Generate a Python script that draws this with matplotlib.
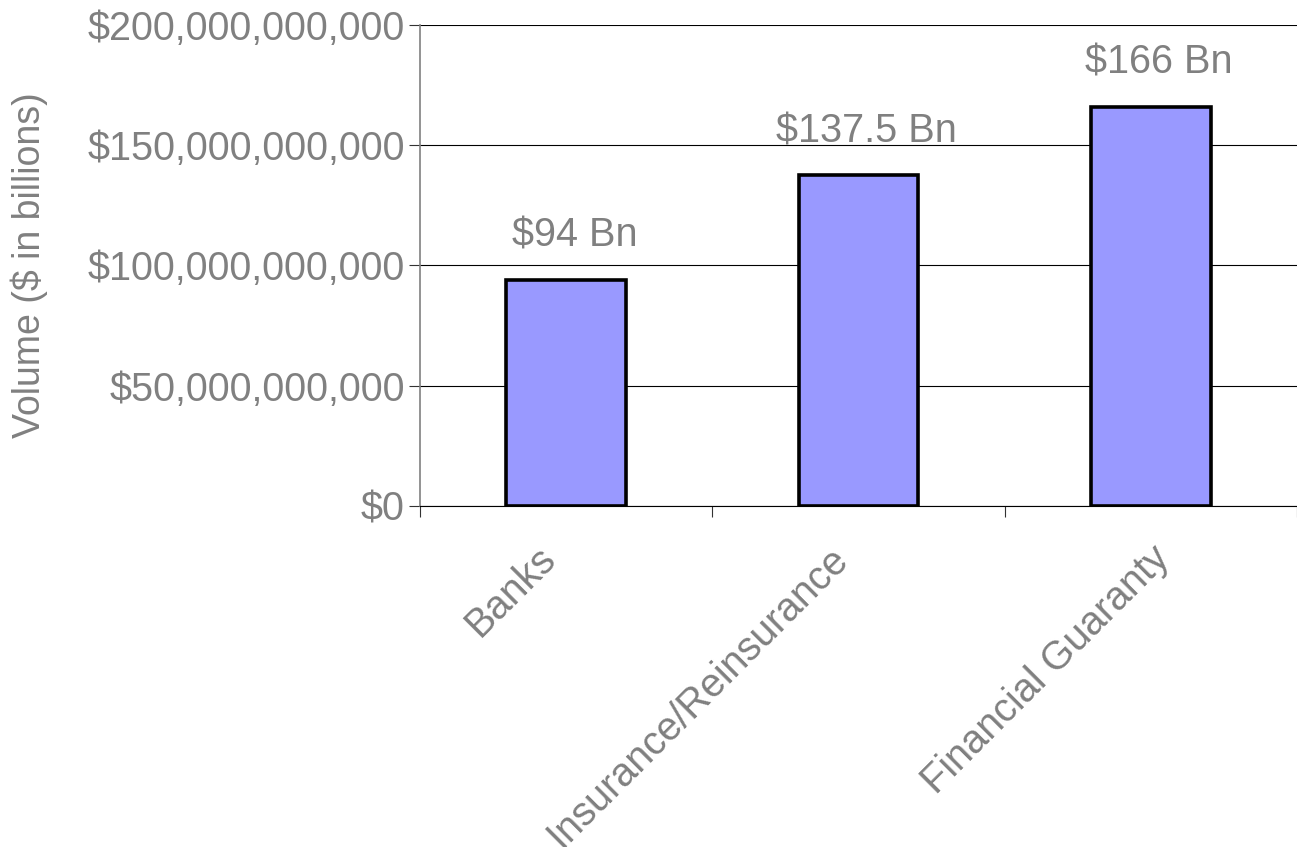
import numpy as np
import matplotlib.pyplot as plt
import matplotlib.transforms as mtransforms
from matplotlib.ticker import FuncFormatter

categories = ['Banks', 'Insurance/Reinsurance', 'Financial Guaranty']
volumes = [94e9, 137.5e9, 166e9]
bar_labels = ['$94 Bn', '$137.5 Bn', '$166 Bn']
yticks = [0, 50e9, 100e9, 150e9, 200e9]

plt.rcParams['font.family'] = ['Liberation Sans', 'DejaVu Sans']
gray = '#808080'

fig = plt.figure(figsize=(12.97, 8.47), dpi=100)
ax = fig.add_axes([0.3238, 0.4026, 0.6762, 0.5679])

x = np.arange(len(categories))
ax.bar(x, volumes, width=0.41, color='#9999FF', edgecolor='black', linewidth=2.6, zorder=3)

for xi, v, lab in zip(x, volumes, bar_labels):
    ax.annotate(lab, (xi, v), xytext=(6, 18), textcoords='offset points',
                ha='center', va='bottom', fontsize=28.5, color=gray)

ax.set_xlim(-0.5, 2.5)
ax.set_ylim(0, 200e9)
ax.set_yticks(yticks)
ax.yaxis.set_major_formatter(FuncFormatter(lambda v, p: '${:,.0f}'.format(v)))
ax.grid(axis='y', color='black', linewidth=0.8, zorder=0)
ax.set_axisbelow(True)

ax.set_xticks(x)
ax.set_xticklabels(categories, rotation=45, ha='right', va='top', rotation_mode='anchor')
ax.set_xticks([-0.5, 0.5, 1.5, 2.5], minor=True)
ax.tick_params(axis='x', which='major', length=0, pad=24, labelsize=28.5, labelcolor=gray)
ax.tick_params(axis='x', which='minor', length=8, width=0.8, color='#333333')
ax.tick_params(axis='y', length=8, width=0.8, pad=3, labelsize=28.5, labelcolor=gray, color='#333333')

# nudge category labels horizontally (pixels), as in the original
nudges = [-30, -30, 0]
for lbl, dx in zip(ax.get_xticklabels(), nudges):
    shift = mtransforms.ScaledTranslation(dx / 100, 0, fig.dpi_scale_trans)
    lbl.set_transform(lbl.get_transform() + shift)

ax.set_ylabel('Volume ($ in billions)', fontsize=27, color=gray, labelpad=28)

for s in ['top', 'right']:
    ax.spines[s].set_visible(False)
ax.spines['left'].set_color(gray)
ax.spines['left'].set_linewidth(1.2)
ax.spines['bottom'].set_color('black')
ax.spines['bottom'].set_linewidth(0.8)

fig.savefig('out.png', dpi=100)
